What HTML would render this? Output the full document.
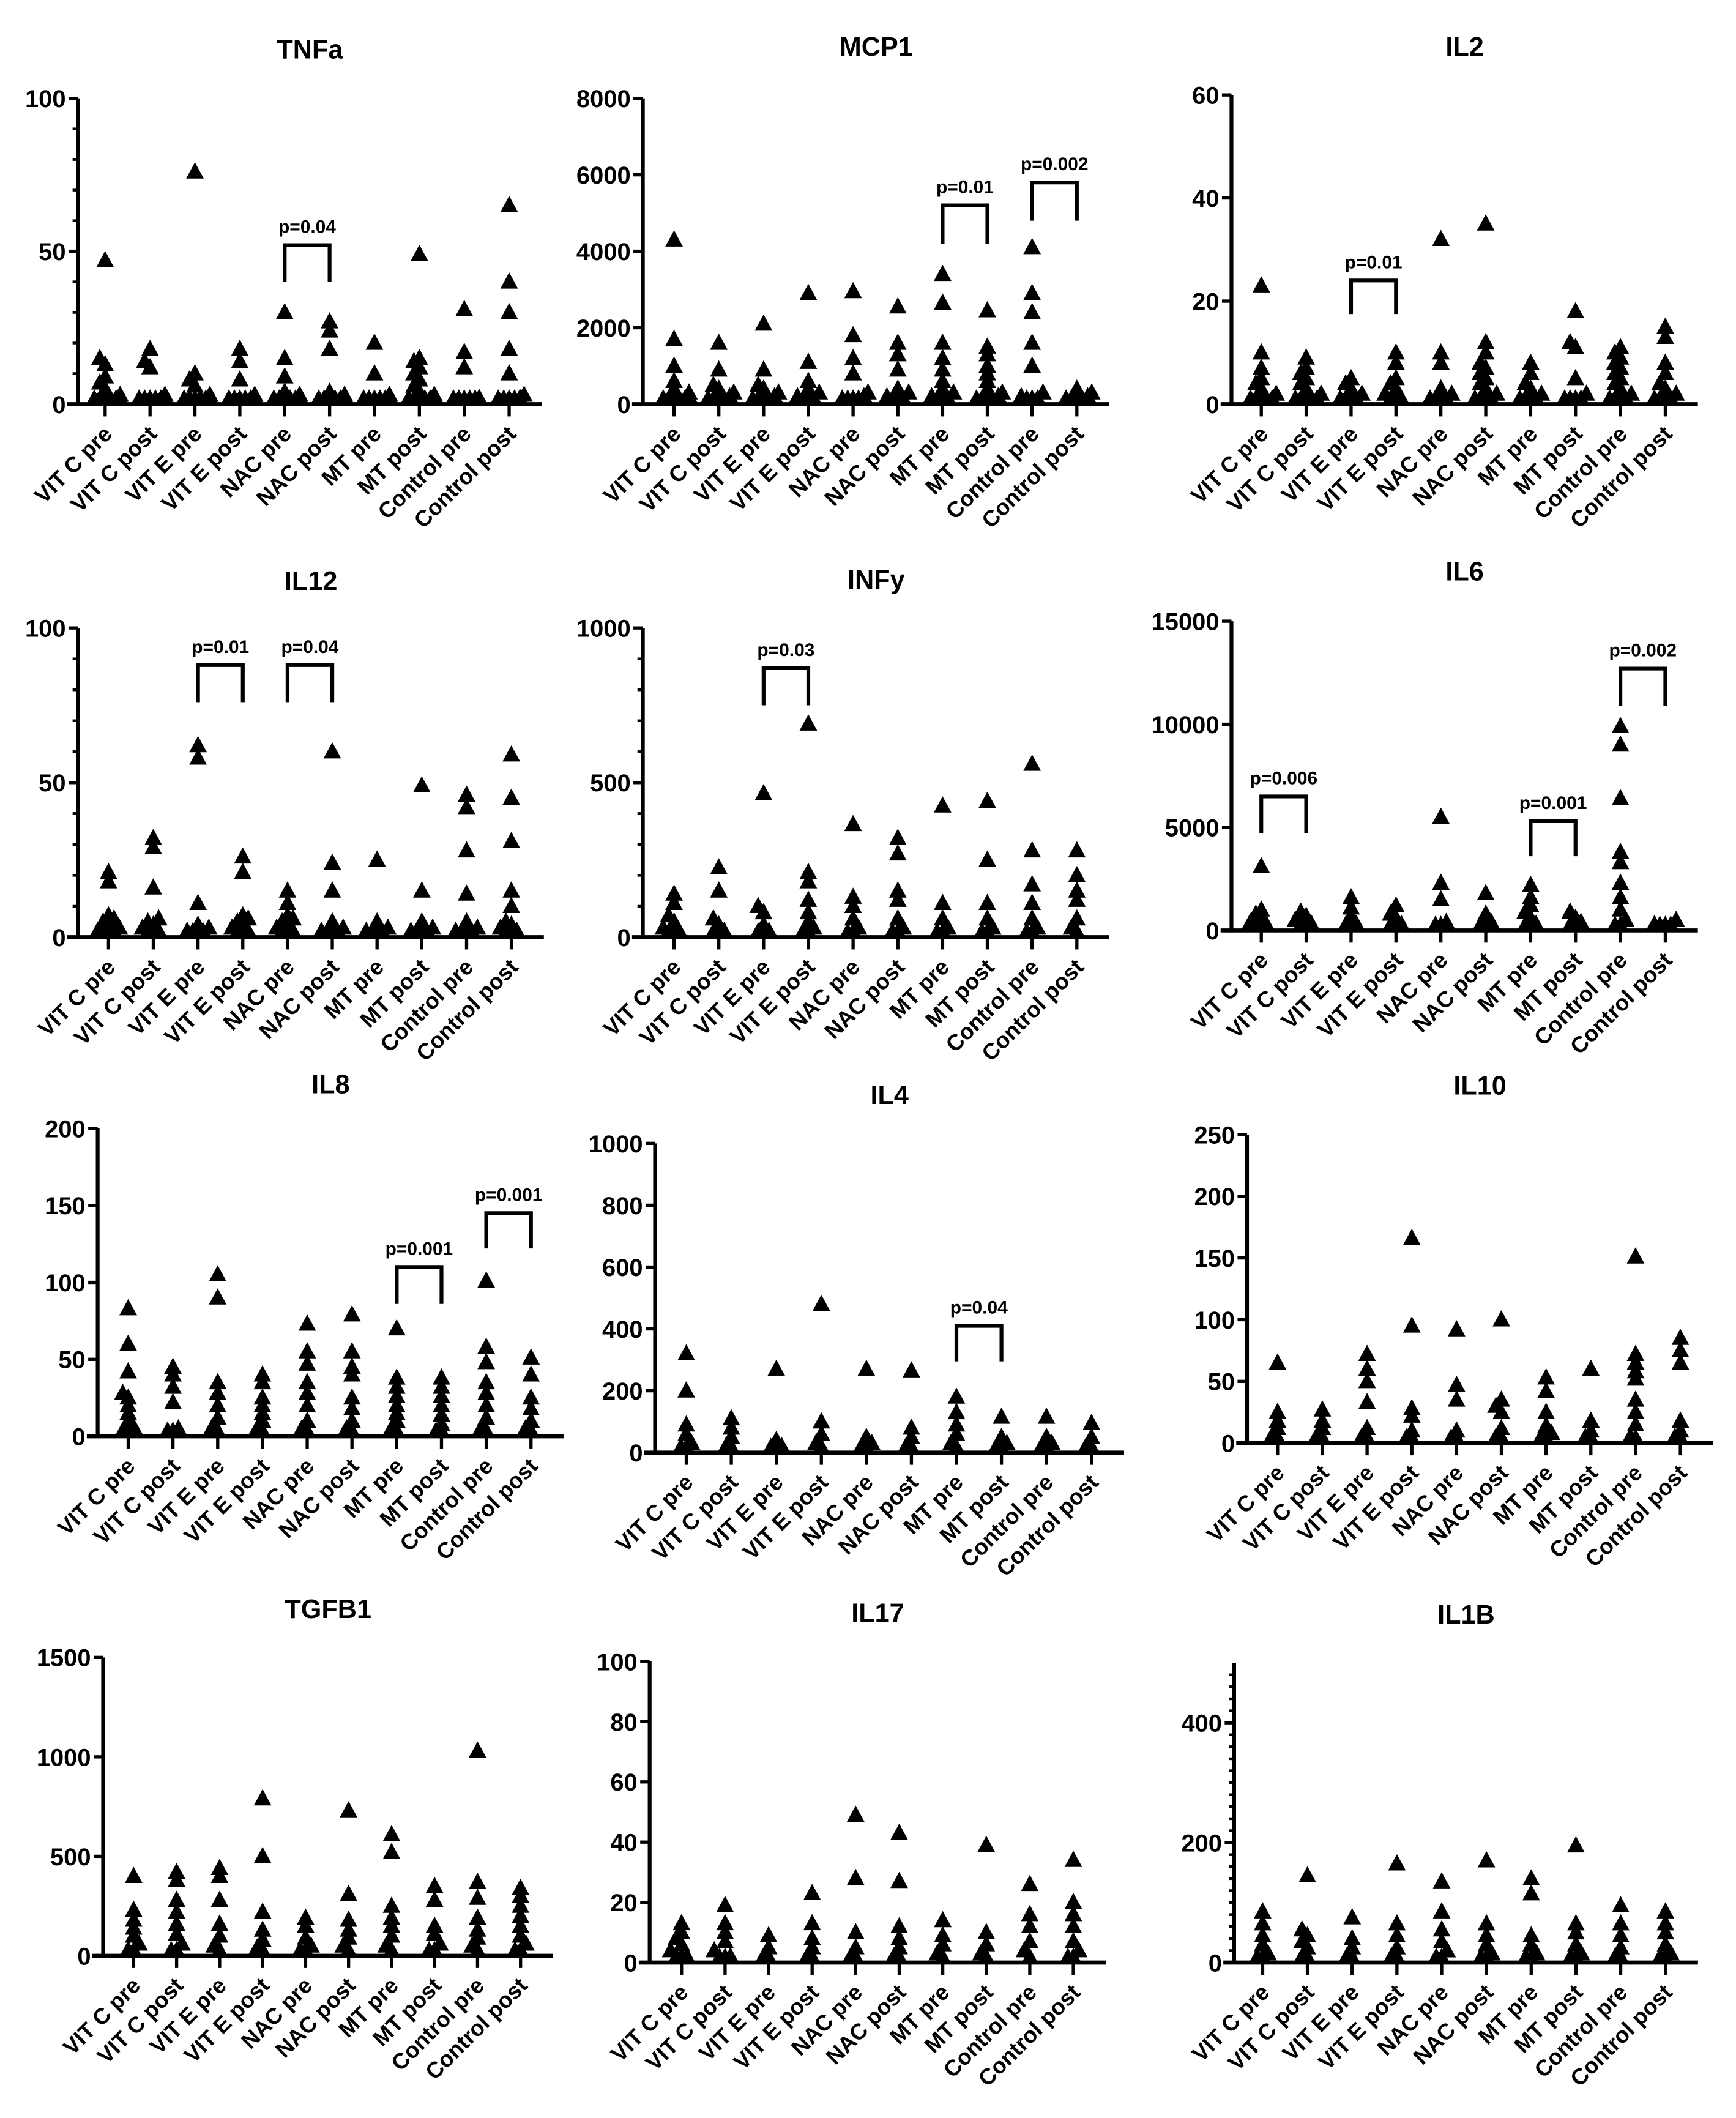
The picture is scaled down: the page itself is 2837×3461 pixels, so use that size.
<!DOCTYPE html>
<html><head><meta charset="utf-8"><style>
html,body{margin:0;padding:0;background:#fff}
svg{display:block}
text{font-family:"Liberation Sans",Arial,sans-serif;font-weight:bold;fill:#000}
</style></head><body>
<svg id="fig" xmlns="http://www.w3.org/2000/svg" width="2837" height="3461" viewBox="0 0 1280 1561.6"></svg>
<script>
const categories=["VIT C pre","VIT C post","VIT E pre","VIT E post","NAC pre","NAC post","MT pre","MT post","Control pre","Control post"];

const tnfaValues=[[47,15,13,9,7,5,3,2,1,1,0,0,0,0,0,0],[18,14,12,3,2,1,1,0,0,0,0,0],[76,10,8,6,3,2,1,1,0,0,0,0,0],[18,14,8,3,2,1,0,0,0,0],[30,15,9,4,3,2,1,1,0,0,0,0,0,0],[27,24,18,4,3,2,1,1,0,0,0,0,0],[20,10,3,2,1,0,0,0,0],[49,15,14,12,10,8,6,4,3,2,1,1,0,0,0,0,0,0],[31,17,12,2,1,0,0,0,0],[65,40,30,18,10,3,2,1,0,0,0]];
const mcp1Values=[[4300,1700,1000,600,400,300,200,150,100,50,0,0,0],[1600,900,500,400,300,200,100,50,0,0],[2100,900,500,400,300,200,100,50,0,0],[2900,1100,600,400,300,200,100,0,0],[2950,1800,1200,800,300,200,100,50,0,0],[2550,1600,1300,900,400,300,200,100,0,0],[3400,2650,1600,1200,900,600,400,300,200,100,0,0],[2450,1500,1300,1000,800,600,400,300,200,100,50,0,0],[4100,2900,2400,1600,1000,300,200,100,0,0],[400,300,200,100,50,0,0]];
const il2Values=[[23,10,7,5,4,3,2,1,1,0,0,0],[9,7,6,5,4,3,2,1,1,0,0,0],[5,4,3,2,1,1,0,0],[10,8,5,4,3,2,1,0,0],[32,10,8,3,2,1,1,0,0],[35,12,10,8,7,6,5,4,3,2,1,0,0,0],[8,6,4,3,2,1,1,0,0],[18,12,11,5,2,1,1,0,0],[11,10,9,8,7,6,5,4,3,2,1,1,0,0],[15,13,8,6,4,3,2,1,1,0,0]];
const il12Values=[[21,18,7,6,5,4,3,2,1,0,0],[32,29,16,6,5,4,3,2,1,0],[62,58,11,4,3,2,1,0,0],[26,21,7,6,5,4,3,2,1,0],[15,11,7,6,5,4,3,2,1,0],[60,24,15,5,3,2,1,0,0],[25,5,3,2,1,0,0],[49,15,5,3,2,1,0,0],[46,42,28,14,5,3,2,1,0,0],[59,45,31,15,10,5,4,3,2,1,0]];
const infyValues=[[140,110,70,50,30,10,0,0],[225,150,60,40,20,0,0],[465,100,80,40,20,0,0],[690,210,180,120,80,50,30,10,0],[365,130,100,60,30,0,0],[320,270,150,120,60,30,0,0],[425,110,60,30,10,0],[440,250,110,60,30,0,0],[560,280,170,110,60,30,0,0],[280,200,150,120,60,30,0]];
const il6Values=[[3100,1000,800,600,400,200,0,0],[900,700,500,300,100,0],[1600,1100,700,300,100,0],[1200,800,600,300,100,0],[5500,2300,1500,400,200,0],[1800,800,400,200,0],[2200,1600,1200,900,600,300,100,0],[900,600,400,200,0],[9900,9000,6400,3800,3300,2300,1600,1000,500,200,0],[500,300,200,100,0]];
const il8Values=[[83,60,42,28,25,20,15,10,6,3,0],[45,40,32,22,5,2,0],[105,90,35,28,20,12,6,0],[40,35,25,20,15,10,5,0],[73,55,47,35,28,20,10,5,0],[79,55,45,40,25,18,10,5,0],[70,38,32,26,20,15,10,5,0],[38,32,26,20,14,8,3,0],[101,58,48,35,28,20,12,5,0],[51,40,25,18,10,5,0]];
const il4Values=[[320,200,90,60,30,10,0],[110,80,50,20,0],[270,40,20,0,0],[480,100,60,30,0],[270,50,30,10,0],[265,80,50,20,0],[180,130,90,60,30,0],[115,50,30,10,0],[115,50,30,10,0],[95,50,20,0]];
const il10Values=[[65,25,18,12,6,0],[27,18,12,6,0],[72,60,50,33,12,5,0],[166,95,28,22,10,4,0],[92,47,35,10,4,0],[100,35,30,25,12,5,0],[53,42,25,14,8,2,0],[60,18,10,5,0],[151,72,65,58,52,35,25,15,5,0],[85,75,65,18,10,5,0]];
const tgfb1Values=[[400,230,180,140,100,60,30,0],[420,380,280,220,160,110,60,20,0],[440,400,280,160,100,50,0],[790,500,220,130,80,40,0],[190,150,90,50,20,0],[730,310,180,130,90,50,0],[610,520,250,190,150,100,50,0],[350,280,150,110,60,20,0],[1030,370,290,190,130,90,50,0],[340,300,250,200,150,100,60,20,0]];
const il17Values=[[13,10,8,6,4,2,0,0],[19,13,10,7,4,2,0,0],[9,5,1,0],[23,13,8,5,1,0],[49,28,10,5,1,0],[43,27,12,8,5,2,0],[14,9,6,3,0],[39,10,6,3,0],[26,16,12,7,4,0],[34,20,16,12,7,4,0,0]];
const il1bValues=[[85,65,45,30,15,5,0],[145,55,45,35,25,10,0],[75,40,25,10,0],[165,65,45,25,10,0],[135,85,55,35,20,5,0],[170,65,45,30,15,5,0],[140,115,45,30,15,5,0],[195,65,50,30,15,5,0],[95,65,45,25,10,0],[85,65,50,30,15,5,0]];

const tnfaTicks=["0","50","100"], mcp1Ticks=["0","2000","4000","6000","8000"], il2Ticks=["0","20","40","60"];
const il12Ticks=["0","50","100"], infyTicks=["0","500","1000"], il6Ticks=["0","5000","10000","15000"];
const il8Ticks=["0","50","100","150","200"], il4Ticks=["0","200","400","600","800","1000"], il10Ticks=["0","50","100","150","200","250"];
const tgfb1Ticks=["0","500","1000","1500"], il17Ticks=["0","20","40","60","80","100"], il1bTicks=["0","200","400"];

// brackets: [group1, group2, topValue, bottomValue, label]
const tnfaBrackets=[[4,5,52,40,"p=0.04"]];
const mcp1Brackets=[[6,7,5200,4200,"p=0.01"],[8,9,5800,4800,"p=0.002"]];
const il2Brackets=[[2,3,24,17.5,"p=0.01"]];
const il12Brackets=[[2,3,88,76,"p=0.01"],[4,5,88,76,"p=0.04"]];
const infyBrackets=[[2,3,870,750,"p=0.03"]];
const il6Brackets=[[0,1,6500,4700,"p=0.006"],[6,7,5300,3600,"p=0.001"],[8,9,12700,10900,"p=0.002"]];
const il8Brackets=[[6,7,110,86,"p=0.001"],[8,9,145,122,"p=0.001"]];
const il4Brackets=[[6,7,410,295,"p=0.04"]];

const charts=[
 {name:"tnfa",title:"TNFa",vals:tnfaValues,ticks:tnfaTicks,max:100,minor:10,br:tnfaBrackets,ax:57.5,f:77.5,sp:33.1,top:72.5,zero:298},
 {name:"mcp1",title:"MCP1",vals:mcp1Values,ticks:mcp1Ticks,max:8000,minor:0,br:mcp1Brackets,ax:474,f:497,sp:33,top:72.5,zero:298},
 {name:"il2",title:"IL2",vals:il2Values,ticks:il2Ticks,max:60,minor:0,br:il2Brackets,ax:908,f:930,sp:33.1,top:70,zero:298},
 {name:"il12",title:"IL12",vals:il12Values,ticks:il12Ticks,max:100,minor:10,br:il12Brackets,ax:57.5,f:80,sp:33,top:463,zero:691},
 {name:"infy",title:"INFy",vals:infyValues,ticks:infyTicks,max:1000,minor:100,br:infyBrackets,ax:474,f:497,sp:33,top:463,zero:691},
 {name:"il6",title:"IL6",vals:il6Values,ticks:il6Ticks,max:15000,minor:0,br:il6Brackets,ax:908,f:930,sp:33.1,top:458,zero:686},
 {name:"il8",title:"IL8",vals:il8Values,ticks:il8Ticks,max:200,minor:0,br:il8Brackets,ax:72,f:94.5,sp:33,top:832,zero:1059},
 {name:"il4",title:"IL4",vals:il4Values,ticks:il4Ticks,max:1000,minor:0,br:il4Brackets,ax:483,f:506,sp:33.2,top:843,zero:1071},
 {name:"il10",title:"IL10",vals:il10Values,ticks:il10Ticks,max:250,minor:0,br:[],ax:919.5,f:942,sp:33,top:836.5,zero:1064},
 {name:"tgfb1",title:"TGFB1",vals:tgfb1Values,ticks:tgfb1Ticks,max:1500,minor:0,br:[],ax:76,f:98.5,sp:31.7,top:1222,zero:1442},
 {name:"il17",title:"IL17",vals:il17Values,ticks:il17Ticks,max:100,minor:0,br:[],ax:479,f:502.5,sp:32.1,top:1225,zero:1447},
 {name:"il1b",title:"IL1B",vals:il1bValues,ticks:il1bTicks,max:500,minor:20,br:[],ax:910,f:931,sp:33,top:1226,zero:1447}
];
const titleY={tnfa:36,mcp1:34,il2:34,il12:428,infy:427,il6:421,il8:799,il4:807,il10:800,tgfb1:1186,il17:1189,il1b:1190};

const NS="http://www.w3.org/2000/svg";
const fig=document.getElementById('fig');
function mk(tag,attrs,parent){const e=document.createElementNS(NS,tag);for(const k in attrs)e.setAttribute(k,attrs[k]);parent.appendChild(e);return e;}

charts.forEach(c=>{
 const g=mk('g',{},fig);
 
 
 const y=v=>c.zero-(v/c.max)*(c.zero-c.top);
 const x=i=>c.f+i*c.sp;
 const xEnd=x(9)+24;
 const t=mk('text',{x:(c.ax+xEnd)/2,y:titleY[c.name]+7,'font-size':19.5,'text-anchor':'middle'},g);
 t.textContent=c.title;
 
 
 const ya=mk('line',{x1:c.ax,y1:c.top,x2:c.ax,y2:c.zero,stroke:'#000','stroke-width':2.8},g);
 
 
 if(c.minor){for(let v=c.minor;v<c.max;v+=c.minor){mk('line',{x1:c.ax-4,y1:y(v),x2:c.ax,y2:y(v),stroke:'#000','stroke-width':2},g);}}
 c.ticks.forEach(s=>{const v=parseFloat(s);mk('line',{x1:c.ax-7,y1:y(v),x2:c.ax,y2:y(v),stroke:'#000','stroke-width':2.4},g);
  const tl=mk('text',{x:c.ax-9,y:y(v)+6.5,'font-size':18,'text-anchor':'end'},g);tl.textContent=s;
  
  });
 const xa=mk('line',{x1:c.ax-8,y1:c.zero,x2:xEnd,y2:c.zero,stroke:'#000','stroke-width':3},g);
 
 
 categories.forEach((cat,i)=>{
  mk('line',{x1:x(i),y1:c.zero,x2:x(i),y2:c.zero+9,stroke:'#000','stroke-width':2.4},g);
  const lx=x(i)+6, ly=c.zero+23;
  const lt=mk('text',{x:lx,y:ly,'font-size':16.5,'text-anchor':'end',transform:`rotate(-45 ${lx} ${ly})`},g);
  lt.textContent=cat;
  
  
 });
 c.vals.forEach((arr,i)=>{
  const placed=[];
  const sorted=arr.slice().sort((a,b)=>a-b);
  const grp=mk('g',{},g);
  
  
  sorted.forEach(v=>{
   const py=Math.min(y(v),c.zero-4);
   const offs=[0,-4,4,-8,8,-11,11];
   let ox=offs[offs.length-1];
   for(const o of offs){if(!placed.some(p=>Math.abs(p[1]-py)<5&&Math.abs(p[0]-o)<4)){ox=o;break;}}
   placed.push([ox,py]);
   const cx=x(i)+ox;
   const tri=mk('path',{d:`M${cx} ${py-7}L${cx+6.5} ${py+5}L${cx-6.5} ${py+5}Z`,fill:'#000'},grp);
   
   
  });
 });
 c.br.forEach(b=>{
  const x1=x(b[0]),x2=x(b[1]),yt=y(b[2]),yb=y(b[3]);
  const p=mk('path',{d:`M${x1} ${yb}V${yt}H${x2}V${yb}`,fill:'none',stroke:'#000','stroke-width':2.8},g);
  
  
  const bt=mk('text',{x:(x1+x2)/2,y:yt-9,'font-size':13.5,'text-anchor':'middle'},g);
  bt.textContent=b[4];
  
  
 });
});
</script>
</body></html>
